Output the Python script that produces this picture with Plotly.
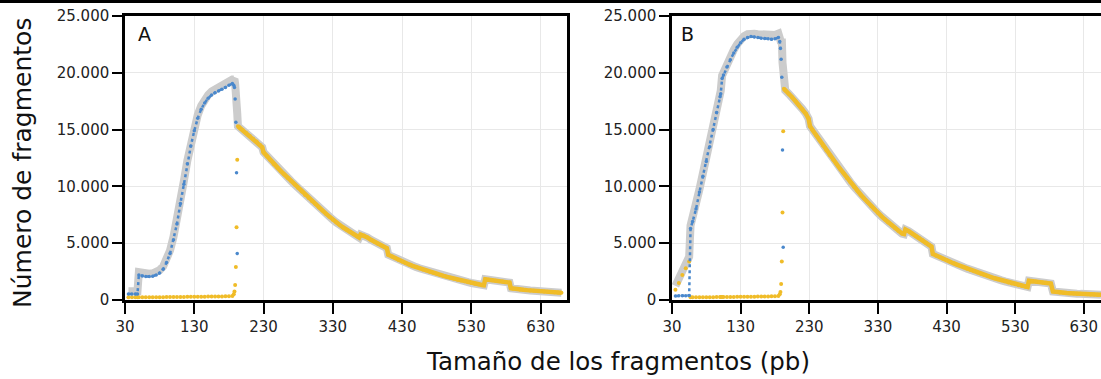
import plotly.graph_objects as go

# ---------------- Panel A ----------------
size_a_left = [35, 40, 45, 48, 50, 55, 60, 65, 70, 75, 80, 85, 90, 95, 100, 105, 110, 115, 120, 125,
               130, 135, 140, 145, 150, 155, 160, 165, 170, 175, 180, 185, 187, 188, 189, 190, 191, 192]
blue_a = [520, 520, 520, 520, 2200, 2120, 2070, 2070, 2100, 2200, 2380, 2700, 3300, 4100, 5300, 6700,
          8500, 10200, 12000, 13550, 14900, 16000, 16800, 17350, 17750, 18050, 18250, 18400, 18550,
          18700, 18900, 19050, 18900, 18700, 17700, 15650, 11200, 4100]
yellow_a_left = [250, 250, 250, 250, 250, 250, 250, 250, 250, 250, 250, 250, 260, 260, 260, 270, 270,
                 270, 280, 280, 280, 290, 290, 290, 300, 300, 300, 310, 310, 320, 330, 350, 500, 750,
                 1330, 2900, 6400, 12350]
size_a_right = [193, 195, 200, 205, 210, 215, 220, 225, 228, 230, 235, 240, 245, 250, 255, 260, 265,
                270, 275, 280, 285, 290, 295, 300, 305, 310, 315, 320, 325, 330, 335, 340, 345, 350,
                355, 360, 365, 368, 370, 375, 380, 385, 390, 395, 400, 405, 408, 410, 415, 420, 425,
                430, 435, 440, 445, 450, 455, 460, 465, 470, 475, 480, 485, 490, 495, 500, 505, 510,
                515, 520, 525, 530, 535, 540, 545, 548, 550, 555, 560, 565, 570, 575, 580, 585, 587,
                590, 595, 600, 605, 610, 615, 620, 625, 630, 635, 640, 645, 650, 655, 660]
yellow_a_right = [15300, 15200, 14950, 14700, 14450, 14200, 13950, 13650, 13450, 13000, 12650, 12300,
                  11950, 11650, 11350, 11050, 10750, 10450, 10150, 9850, 9550, 9250, 8980, 8700, 8420,
                  8150, 7880, 7600, 7330, 7070, 6830, 6600, 6380, 6180, 5980, 5780, 5580, 5500, 5760,
                  5680, 5500, 5300, 5120, 4950, 4790, 4650, 4560, 3980, 3820, 3670, 3530, 3390, 3250,
                  3130, 3010, 2900, 2790, 2690, 2590, 2490, 2400, 2300, 2210, 2120, 2030, 1950, 1870,
                  1790, 1710, 1640, 1570, 1500, 1440, 1380, 1320, 1300, 1820, 1780, 1740, 1700, 1660,
                  1620, 1580, 1530, 1040, 1000, 960, 930, 900, 870, 840, 820, 790, 770, 740, 720, 700,
                  680, 660, 640]

# ---------------- Panel B ----------------
size_b_left = [35, 40, 45, 50, 55, 57, 60, 65, 70, 75, 80, 85, 90, 95, 100, 101, 103, 105, 110, 115,
               120, 125, 130, 135, 140, 145, 150, 155, 160, 165, 170, 175, 180, 185, 187, 188, 189,
               190, 191, 192]
blue_b = [350, 380, 380, 380, 400, 6300, 6900, 8000, 9500, 10900, 12200, 13500, 15000, 16500, 17900,
          18150, 19500, 19800, 20500, 21150, 21750, 22250, 22650, 22950, 23100, 23200, 23150, 23100,
          23050, 23030, 23000, 22950, 23000, 23100, 22750, 22150, 21200, 19600, 13200, 4650]
yellow_b_left = [900, 1500, 2200, 2800, 3400, 250, 250, 250, 250, 250, 250, 250, 250, 260, 260, 260,
                 260, 260, 270, 270, 270, 280, 280, 280, 290, 290, 290, 300, 300, 300, 310, 320, 330,
                 350, 500, 700, 1400, 3400, 7700, 14850]
size_b_right = [193, 195, 200, 205, 210, 215, 220, 225, 229, 231, 235, 240, 245, 250, 255, 260, 265,
                270, 275, 280, 285, 290, 295, 300, 305, 310, 315, 320, 325, 330, 335, 340, 345, 350,
                355, 360, 365, 368, 370, 375, 380, 385, 390, 395, 400, 405, 408, 410, 415, 420, 425,
                430, 435, 440, 445, 450, 455, 460, 465, 470, 475, 480, 485, 490, 495, 500, 505, 510,
                515, 520, 525, 530, 535, 540, 545, 548, 550, 555, 560, 565, 570, 575, 580, 582, 585,
                590, 595, 600, 605, 610, 615, 620, 625, 630, 635, 640, 645, 650, 655]
yellow_b_right = [18600, 18450, 18150, 17850, 17500, 17150, 16800, 16400, 15950, 15300, 14950, 14500,
                  14050, 13600, 13150, 12750, 12350, 11950, 11550, 11150, 10750, 10350, 9980, 9620,
                  9270, 8930, 8600, 8280, 7970, 7670, 7380, 7100, 6830, 6570, 6320, 6080, 5850, 5800,
                  6200, 6050, 5850, 5650, 5450, 5250, 5050, 4850, 4700, 4050, 3900, 3760, 3630, 3500,
                  3370, 3240, 3120, 3000, 2880, 2760, 2640, 2530, 2420, 2310, 2210, 2110, 2010, 1910,
                  1820, 1730, 1640, 1550, 1460, 1380, 1300, 1230, 1170, 1150, 1700, 1670, 1630, 1590,
                  1550, 1510, 1470, 1440, 750, 700, 670, 640, 620, 600, 580, 560, 540, 520, 500, 490,
                  480, 470, 460]

x_ticks = [30, 130, 230, 330, 430, 530, 630]
y_ticks = [0, 5000, 10000, 15000, 20000, 25000]
y_tick_text = ["0", "5.000", "10.000", "15.000", "20.000", "25.000"]
panel_labels = ["A", "B"]
x_title = "Tamaño de los fragmentos (pb)"
y_title = "Número de fragmentos"

GRAY = "rgb(204,204,204)"
BLUE = "rgb(74,136,204)"
YELLOW = "rgb(240,188,40)"
FONT = "DejaVu Sans"

fig = go.Figure()

panels = [
    (size_a_left, blue_a, yellow_a_left, size_a_right, yellow_a_right, "x", "y"),
    (size_b_left, blue_b, yellow_b_left, size_b_right, yellow_b_right, "x2", "y2"),
]
for sl, bl, yl, sr, yr, xa, ya in panels:
    total_x = sl + sr
    total_y = [b + y for b, y in zip(bl, yl)] + yr
    fig.add_trace(go.Scatter(x=total_x, y=total_y, mode="lines", xaxis=xa, yaxis=ya,
                             line=dict(color=GRAY, width=8), hoverinfo="skip", showlegend=False))
    fig.add_trace(go.Scatter(x=sr, y=yr, mode="lines", xaxis=xa, yaxis=ya,
                             line=dict(color=YELLOW, width=4.5), showlegend=False))
    fig.add_trace(go.Scatter(x=sl + sr, y=yl + yr, mode="markers", xaxis=xa, yaxis=ya,
                             marker=dict(color=YELLOW, size=4, line=dict(width=0)),
                             showlegend=False))
    n_main = len([s for s in sl if s <= 188])
    fig.add_trace(go.Scatter(x=sl[:n_main], y=bl[:n_main], mode="lines", xaxis=xa, yaxis=ya,
                             line=dict(color=BLUE, width=2.5, dash="dot"), showlegend=False))
    fig.add_trace(go.Scatter(x=sl, y=bl, mode="markers", xaxis=xa, yaxis=ya,
                             marker=dict(color=BLUE, size=3.5, line=dict(width=0)),
                             showlegend=False))

W, H = 1101, 379
def px(x):
    return x / W
def py(y):
    return 1 - y / H

axis_common = dict(showline=True, linecolor="black", linewidth=2.5, ticks="outside",
                   tickcolor="black", tickwidth=2, showgrid=True, gridcolor="rgb(232,232,232)",
                   gridwidth=1, zeroline=False, automargin=False,
                   tickfont=dict(family=FONT, size=15, color="#222"))

fig.update_layout(
    template="none",
    width=W, height=H, autosize=False,
    margin=dict(l=0, r=0, t=0, b=0, pad=0, autoexpand=False),
    paper_bgcolor="white", plot_bgcolor="white",
    xaxis=dict(axis_common, domain=[px(125), px(567)], range=[30, 668], tickvals=x_ticks,
               ticklen=11, mirror=True, anchor="y"),
    yaxis=dict(axis_common, domain=[py(300), py(16)], range=[0, 25000], tickvals=y_ticks,
               ticktext=y_tick_text, ticklen=10, mirror=True, anchor="x"),
    xaxis2=dict(axis_common, domain=[px(672), 1.0], range=[30, 655], tickvals=x_ticks,
                ticklen=11, mirror=True, anchor="y2"),
    yaxis2=dict(axis_common, domain=[py(300), py(16)], range=[0, 25000], tickvals=y_ticks,
                ticktext=y_tick_text, ticklen=10, mirror=False, anchor="x2"),
    shapes=[dict(type="rect", xref="paper", yref="paper", x0=0, x1=1, y0=py(3), y1=1,
                 fillcolor="black", line=dict(width=0))],
    annotations=[
        dict(text=panel_labels[0], xref="paper", yref="paper", x=px(136), y=py(34),
             xanchor="left", yanchor="middle", showarrow=False,
             font=dict(family=FONT, size=19, color="#111")),
        dict(text=panel_labels[1], xref="paper", yref="paper", x=px(679), y=py(34),
             xanchor="left", yanchor="middle", showarrow=False,
             font=dict(family=FONT, size=19, color="#111")),
        dict(text=x_title, xref="paper", yref="paper", x=px(618), y=py(361),
             xanchor="center", yanchor="middle", showarrow=False,
             font=dict(family=FONT, size=24.5, color="#111")),
        dict(text=y_title, xref="paper", yref="paper", x=px(23), y=py(163), textangle=-90,
             xanchor="center", yanchor="middle", showarrow=False,
             font=dict(family=FONT, size=25, color="#111")),
    ],
)

fig.write_html("out.html", config={"displayModeBar": False},
               post_script="document.body.style.margin='0';document.body.style.padding='0';"
                           "document.documentElement.style.overflow='hidden';")
